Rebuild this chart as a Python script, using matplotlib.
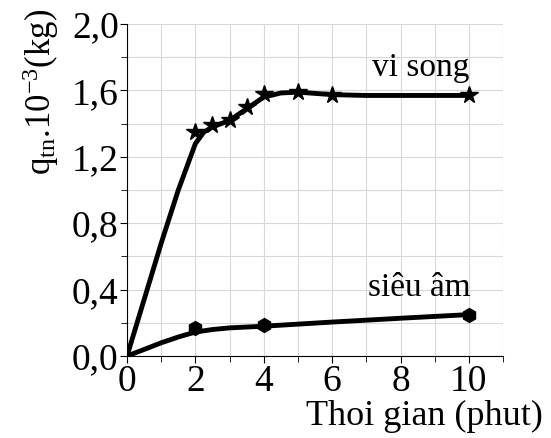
import matplotlib
matplotlib.use("Agg")
import matplotlib.pyplot as plt
from matplotlib.ticker import MultipleLocator, FuncFormatter

plt.rcParams['font.family'] = ['Liberation Serif', 'DejaVu Serif']
plt.rcParams['mathtext.fontset'] = 'custom'
plt.rcParams['mathtext.rm'] = 'Liberation Serif'
plt.rcParams['mathtext.it'] = 'Liberation Serif:italic'

# measured points (markers)
vs_x = [2, 2.5, 3, 3.5, 4, 5, 6, 10]
vs_y = [1.35, 1.39, 1.42, 1.50, 1.58, 1.59, 1.57, 1.57]
sa_x = [2, 4, 10]
sa_y = [0.17, 0.185, 0.25]

# fitted curves as drawn in the picture
vs_line_x = [0, 0.5, 1, 1.5, 2, 2.25, 2.5, 3, 3.5, 4, 4.5, 5, 6, 7, 10]
vs_line_y = [0, 0.34, 0.68, 1.0, 1.28, 1.35, 1.38, 1.42, 1.49, 1.56, 1.585, 1.59, 1.575, 1.57, 1.57]
sa_line_x = [0, 0.5, 1, 1.5, 2, 2.5, 3, 4, 6, 8, 10]
sa_line_y = [0, 0.04, 0.08, 0.115, 0.145, 0.16, 0.17, 0.18, 0.205, 0.228, 0.25]

fig = plt.figure(figsize=(5.51, 4.38), dpi=100)
ax = fig.add_axes([0.2305, 0.187, 0.6825, 0.758])

ax.plot(vs_line_x, vs_line_y, color='black', linewidth=3.5, solid_capstyle='round', zorder=3)
ax.plot(vs_x, vs_y, linestyle='none', marker='*', markersize=13, color='black', zorder=4)
ax.plot(sa_line_x, sa_line_y, color='black', linewidth=3.5, solid_capstyle='round', zorder=3)
ax.plot(sa_x, sa_y, linestyle='none', marker='h', markersize=10, color='black', zorder=4)

ax.set_xlim(0, 11)
ax.set_ylim(0, 2.0)
ax.xaxis.set_major_locator(MultipleLocator(2))
ax.xaxis.set_minor_locator(MultipleLocator(1))
ax.yaxis.set_major_locator(MultipleLocator(0.4))
ax.yaxis.set_minor_locator(MultipleLocator(0.2))
ax.yaxis.set_major_formatter(FuncFormatter(lambda v, p: f'{v:.1f}'.replace('.', ',')))
ax.xaxis.set_major_formatter(FuncFormatter(lambda v, p: f'{v:.0f}'))

ax.grid(True, which='both', color='#d8d8d8', linewidth=0.8)
ax.set_axisbelow(True)
ax.spines['top'].set_visible(False)
ax.spines['right'].set_visible(False)
ax.tick_params(which='both', direction='out', labelsize=27, pad=1)
ax.tick_params(which='major', length=5)
ax.tick_params(which='minor', length=4)

ax.text(8.6, 1.74, 'vi song', fontsize=24, ha='center', va='center')
ax.text(8.55, 0.41, 'siêu âm', fontsize=24, ha='center', va='center')

fig.text(0.985, 0.048, 'Thoi gian (phut)', fontsize=26, ha='right', va='center')
fig.text(0.073, 0.79, r'q$_{\mathrm{tn}}$.10$^{\mathrm{-3}}$(kg)', fontsize=25,
         rotation=90, ha='center', va='center')

fig.savefig('out.png', dpi=100)
